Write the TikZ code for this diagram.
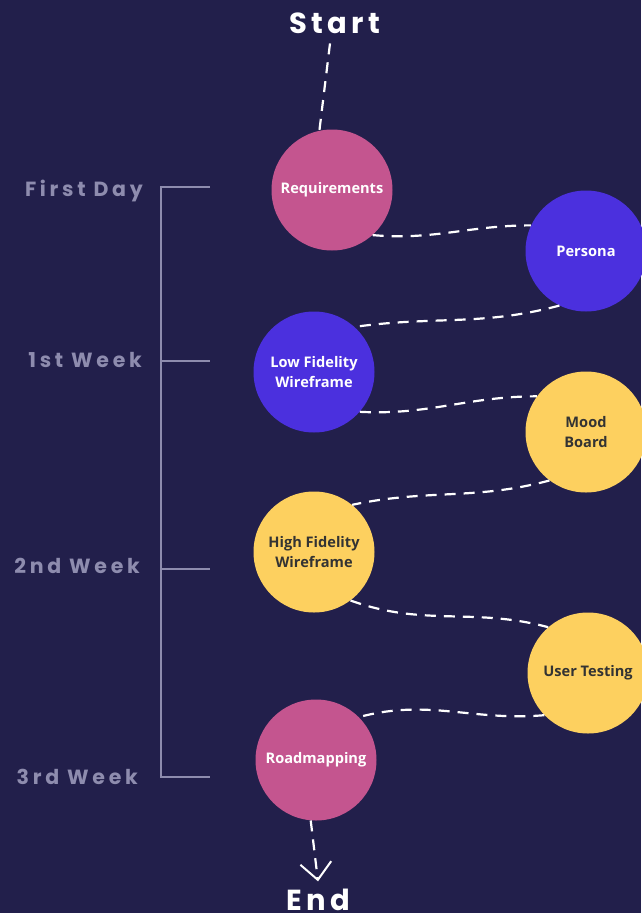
\documentclass[tikz,border=0pt]{standalone}
\usepackage{fontspec}
\setmainfont{Open Sans}
\newfontfamily\poppins[LetterSpace=15]{Poppins}
\newfontfamily\poppinslabel[LetterSpace=18]{Poppins}
\usetikzlibrary{arrows.meta}
\definecolor{bgnavy}{HTML}{221F4B}
\definecolor{phasepink}{HTML}{C4558F}
\definecolor{phasepurple}{HTML}{4B30DE}
\definecolor{phaseyellow}{HTML}{FDD05F}
\definecolor{weekgray}{HTML}{8E8CAE}
\definecolor{darktext}{HTML}{333333}
\tikzset{
  phase/.style={circle, minimum size=121pt, inner sep=0pt, align=center,
    font=\fontsize{14.6}{19.5}\selectfont\bfseries},
  pinkphase/.style={phase, fill=phasepink, text=white},
  purplephase/.style={phase, fill=phasepurple, text=white},
  yellowphase/.style={phase, fill=phaseyellow, text=darktext},
  dashlink/.style={draw=white, line width=2.2pt, dash pattern=on 11pt off 8pt},
  weeklabel/.style={anchor=base east, text=weekgray, inner sep=0pt,
    font=\poppinslabel\fontsize{20.5}{24}\selectfont\bfseries},
  bracket/.style={draw=weekgray, line width=2pt},
}
\begin{document}
\begin{tikzpicture}[x=1pt,y=1pt]
        \fill[bgnavy] (0,0) rectangle (641,-913);
        \useasboundingbox (0,0) rectangle (641,-913);

        % phases
        \node[pinkphase] (req) at (332,-190) {Requirements};
        \node[purplephase] (persona) at (586,-251) {Persona};
        \node[purplephase] (lofi) at (314,-372) {Low Fidelity\\Wireframe};
        \node[yellowphase] (mood) at (586,-432) {Mood\\Board};
        \node[yellowphase] (hifi) at (314,-552) {High Fidelity\\Wireframe};
        \node[yellowphase] (usertest) at (588,-673) {User Testing};
        \node[pinkphase] (roadmap) at (316,-760) {Roadmapping};

        % start and end
        \node[text=white, inner sep=0pt, anchor=base, font=\poppins\fontsize{29}{30}\selectfont\bfseries] (start) at (335,-33) {Start};
        \node[text=white, inner sep=0pt, anchor=base, font=\poppins\fontsize{29}{30}\selectfont\bfseries] (finish) at (318,-910) {End};

        % dashed path
        \draw[dashlink] ([xshift=-5pt,yshift=-10pt]start.south) -- (req.102);
        \draw[dashlink] (req.-48) to[out=-5,in=180] (persona.155);
        \draw[dashlink] (persona.244) to[out=195,in=8] (lofi.48);
        \draw[dashlink] (lofi.-41) to[out=-3,in=180] (mood.144);
        \draw[dashlink] (mood.233) to[out=195,in=12] (hifi.51);
        \draw[dashlink] (hifi.-53) to[out=-20,in=165] (usertest.131);
        \draw[dashlink] (usertest.224) to[out=185,in=15] (roadmap.45);
        \draw[dashlink, -{Straight Barb[length=17pt,width=31pt,line width=2pt]}] (roadmap.265) -- ([yshift=7pt]finish.north);

        % weeks
        \node[weeklabel] (day1) at (143,-196) {First Day};
        \node[weeklabel] (week1) at (142,-367) {1st Week};
        \node[weeklabel] (week2) at (140,-573) {2nd Week};
        \node[weeklabel] (week3) at (138,-784) {3rd Week};
        \draw[bracket] (210,-187) -- (161,-187) -- (161,-777) -- (210,-777);
        \draw[bracket] (161,-361) -- (210,-361);
        \draw[bracket] (161,-569) -- (210,-569);
      \end{tikzpicture}
\end{document}
